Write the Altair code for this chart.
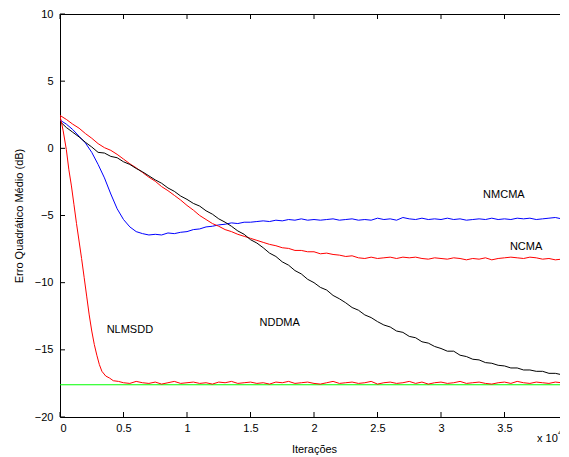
import altair as alt
import pandas as pd

FONT = "Liberation Sans"

# iterations (x 10^4)
grid = [0.00, 0.05, 0.10, 0.15, 0.20, 0.25, 0.30, 0.35, 0.40, 0.45,
        0.50, 0.55, 0.60, 0.65, 0.70, 0.75, 0.80, 0.85, 0.90, 0.95,
        1.00, 1.05, 1.10, 1.15, 1.20, 1.25, 1.30, 1.35, 1.40, 1.45,
        1.50, 1.55, 1.60, 1.65, 1.70, 1.75, 1.80, 1.85, 1.90, 1.95,
        2.00, 2.05, 2.10, 2.15, 2.20, 2.25, 2.30, 2.35, 2.40, 2.45,
        2.50, 2.55, 2.60, 2.65, 2.70, 2.75, 2.80, 2.85, 2.90, 2.95,
        3.00, 3.05, 3.10, 3.15, 3.20, 3.25, 3.30, 3.35, 3.40, 3.45,
        3.50, 3.55, 3.60, 3.65, 3.70, 3.75, 3.80, 3.85, 3.90, 3.95,
        4.00]

nddma = [2.0, 1.55, 1.2, 0.85, 0.45, 0.1, -0.3, -0.35, -0.6, -0.7,
         -1.0, -1.2, -1.5, -1.75, -2.05, -2.35, -2.6, -2.95, -3.2, -3.55,
         -3.8, -4.1, -4.3, -4.65, -4.9, -5.25, -5.5, -5.8, -6.15, -6.4,
         -6.8, -7.05, -7.4, -7.8, -8.05, -8.45, -8.7, -9.1, -9.35, -9.75,
         -10.0, -10.35, -10.55, -10.95, -11.2, -11.5, -11.85, -12.05, -12.4, -12.6,
         -12.9, -13.15, -13.3, -13.6, -13.7, -14.0, -14.1, -14.4, -14.5, -14.75,
         -14.9, -15.1, -15.1, -15.4, -15.5, -15.7, -15.75, -15.95, -16.0, -16.15,
         -16.2, -16.35, -16.35, -16.5, -16.5, -16.6, -16.6, -16.75, -16.75, -16.85,
         -16.95]

nmcma = [2.1, 1.8, 1.4, 0.9, 0.4, -0.3, -1.2, -2.2, -3.4, -4.5,
         -5.3, -5.85, -6.2, -6.35, -6.45, -6.4, -6.45, -6.3, -6.35, -6.25,
         -6.2, -6.05, -6.0, -5.85, -5.8, -5.7, -5.65, -5.55, -5.6, -5.5,
         -5.5, -5.45, -5.4, -5.45, -5.35, -5.4, -5.3, -5.35, -5.25, -5.35,
         -5.3, -5.35, -5.3, -5.25, -5.35, -5.3, -5.25, -5.35, -5.3, -5.35,
         -5.2, -5.3, -5.25, -5.35, -5.15, -5.25, -5.3, -5.2, -5.3, -5.25,
         -5.3, -5.2, -5.3, -5.25, -5.35, -5.3, -5.25, -5.3, -5.2, -5.3,
         -5.25, -5.3, -5.2, -5.25, -5.2, -5.3, -5.25, -5.2, -5.15, -5.25,
         -5.3]

ncma = [2.45, 2.15, 1.8, 1.5, 1.1, 0.75, 0.35, 0.05, -0.15, -0.45,
        -0.8, -1.15, -1.45, -1.8, -2.15, -2.45, -2.85, -3.15, -3.5, -3.85,
        -4.25, -4.6, -5.0, -5.3, -5.6, -5.8, -6.05, -6.2, -6.4, -6.55,
        -6.7, -6.85, -7.0, -7.15, -7.25, -7.4, -7.45, -7.6, -7.6, -7.7,
        -7.7, -7.85, -7.8, -7.9, -7.95, -8.05, -8.0, -8.15, -8.2, -8.1,
        -8.2, -8.15, -8.1, -8.2, -8.1, -8.15, -8.1, -8.2, -8.25, -8.15,
        -8.2, -8.25, -8.15, -8.2, -8.3, -8.2, -8.25, -8.15, -8.3, -8.2,
        -8.15, -8.1, -8.15, -8.2, -8.1, -8.15, -8.25, -8.2, -8.3, -8.25,
        -8.3]

nlmsdd_x = [0.0, 0.01, 0.025, 0.05, 0.07, 0.09, 0.11, 0.13, 0.15, 0.17,
            0.19, 0.21, 0.23, 0.25, 0.27, 0.29, 0.31, 0.33, 0.36, 0.39,
            0.42, 0.46, 0.50,
            0.55, 0.60, 0.65, 0.70, 0.75, 0.80, 0.85, 0.90, 0.95, 1.00,
            1.05, 1.10, 1.15, 1.20, 1.25, 1.30, 1.35, 1.40, 1.45, 1.50,
            1.55, 1.60, 1.65, 1.70, 1.75, 1.80, 1.85, 1.90, 1.95, 2.00,
            2.05, 2.10, 2.15, 2.20, 2.25, 2.30, 2.35, 2.40, 2.45, 2.50,
            2.55, 2.60, 2.65, 2.70, 2.75, 2.80, 2.85, 2.90, 2.95, 3.00,
            3.05, 3.10, 3.15, 3.20, 3.25, 3.30, 3.35, 3.40, 3.45, 3.50,
            3.55, 3.60, 3.65, 3.70, 3.75, 3.80, 3.85, 3.90, 3.95, 4.00]
nlmsdd_y = [2.4, 2.0, 1.3, -0.1, -1.6, -2.8, -4.2, -5.6, -6.9, -8.2,
            -9.6, -11.0, -12.4, -13.6, -14.6, -15.4, -16.1, -16.6, -16.95, -17.1,
            -17.3, -17.35, -17.45,
            -17.5, -17.35, -17.45, -17.5, -17.4, -17.55, -17.45, -17.35, -17.5, -17.45,
            -17.4, -17.5, -17.45, -17.55, -17.4, -17.45, -17.35, -17.5, -17.45, -17.4,
            -17.5, -17.45, -17.55, -17.4, -17.45, -17.35, -17.5, -17.45, -17.4, -17.5,
            -17.55, -17.45, -17.35, -17.5, -17.45, -17.4, -17.5, -17.45, -17.35, -17.55,
            -17.45, -17.4, -17.5, -17.45, -17.35, -17.5, -17.4, -17.55, -17.45, -17.4,
            -17.5, -17.45, -17.35, -17.5, -17.45, -17.4, -17.5, -17.55, -17.45, -17.4,
            -17.5, -17.35, -17.45, -17.5, -17.4, -17.45, -17.5, -17.4, -17.45, -17.5]

ref_x = [0.0, 4.0]
ref_y = [-17.6, -17.6]

x_ticks = [0, 0.5, 1, 1.5, 2, 2.5, 3, 3.5, 4]
y_ticks = [-20, -15, -10, -5, 0, 5, 10]

label_text = ["NMCMA", "NCMA", "NLMSDD", "NDDMA"]
label_x = [3.495, 3.67, 0.55, 1.73]
label_y = [-3.5, -7.37, -13.55, -13.0]

series_order = ["ref", "NMCMA", "NCMA", "NDDMA", "NLMSDD"]
series_colors = ["#00ff00", "#0000ff", "#ff0000", "#000000", "#ff0000"]

rows = []
def add(name, xs, ys):
    for i, (a, b) in enumerate(zip(xs, ys)):
        rows.append({"series": name, "x": a, "y": b, "i": i})

add("ref", ref_x, ref_y)
add("NMCMA", grid, nmcma)
add("NCMA", grid, ncma)
add("NDDMA", grid, nddma)
add("NLMSDD", nlmsdd_x, nlmsdd_y)
df = pd.DataFrame(rows)

W, H = 508, 403
xsc = alt.Scale(domain=[0, 4], nice=False, zero=False)
ysc = alt.Scale(domain=[-20, 10], nice=False, zero=False)

x_axis = alt.Axis(
    values=x_ticks, format="~g", ticks=False, tickSize=0, domain=False, grid=False,
    labelPadding=5, labelFontSize=11, labelFont=FONT, labelColor="black",
    title="Iterações", titleFont=FONT, titleFontSize=11, titleFontWeight="normal",
    titleColor="black", titleY=32, titleBaseline="middle")
y_axis = alt.Axis(
    values=y_ticks, format="~g", ticks=False, tickSize=0, domain=False, grid=False,
    labelPadding=7, labelFontSize=11, labelFont=FONT, labelColor="black",
    title="Erro Quadrático Médio (dB)", titleFont=FONT, titleFontSize=11,
    titleFontWeight="normal", titleColor="black", titleX=-41, titleY=H / 2,
    titleBaseline="middle")

lines = alt.Chart(df).mark_line(strokeWidth=1, clip=True).encode(
    x=alt.X("x:Q", scale=xsc, axis=x_axis),
    y=alt.Y("y:Q", scale=ysc, axis=y_axis),
    color=alt.Color("series:N", scale=alt.Scale(domain=series_order, range=series_colors), legend=None),
    order="i:Q",
)

xt = pd.DataFrame({"v": x_ticks})
yt = pd.DataFrame({"v": y_ticks})
tick_bottom = alt.Chart(xt).mark_rule(color="black", strokeWidth=1).encode(
    x=alt.X("v:Q", scale=xsc, axis=x_axis), y=alt.value(H), y2=alt.value(H - 5))
tick_top = alt.Chart(xt).mark_rule(color="black", strokeWidth=1).encode(
    x=alt.X("v:Q", scale=xsc, axis=x_axis), y=alt.value(0), y2=alt.value(5))
tick_left = alt.Chart(yt).mark_rule(color="black", strokeWidth=1).encode(
    y=alt.Y("v:Q", scale=ysc, axis=y_axis), x=alt.value(0), x2=alt.value(5))
tick_right = alt.Chart(yt).mark_rule(color="black", strokeWidth=1).encode(
    y=alt.Y("v:Q", scale=ysc, axis=y_axis), x=alt.value(W), x2=alt.value(W - 5))

labels = alt.Chart(pd.DataFrame({"t": label_text, "x": label_x, "y": label_y})).mark_text(
    font=FONT, fontSize=11, color="black", align="center", baseline="middle").encode(
    x=alt.X("x:Q", scale=xsc, axis=x_axis), y=alt.Y("y:Q", scale=ysc, axis=y_axis), text="t:N")

exp_base = alt.Chart(pd.DataFrame({"t": ["x 10"]})).mark_text(
    font=FONT, fontSize=11, color="black", align="left", baseline="middle").encode(
    text="t:N", x=alt.value(477), y=alt.value(425))
exp_sup = alt.Chart(pd.DataFrame({"t": ["4"]})).mark_text(
    font=FONT, fontSize=8, color="black", align="left", baseline="middle").encode(
    text="t:N", x=alt.value(498), y=alt.value(419))

chart = alt.layer(lines, tick_bottom, tick_top, tick_left, tick_right, labels, exp_base, exp_sup).properties(
    width=W, height=H,
    autosize=alt.AutoSizeParams(type="none"),
    padding={"left": 52, "top": 6, "right": -8, "bottom": 38},
    background="white",
).configure_view(stroke="black", strokeWidth=1)

chart.save("out.html", embed_options={"renderer": "svg", "actions": False})
